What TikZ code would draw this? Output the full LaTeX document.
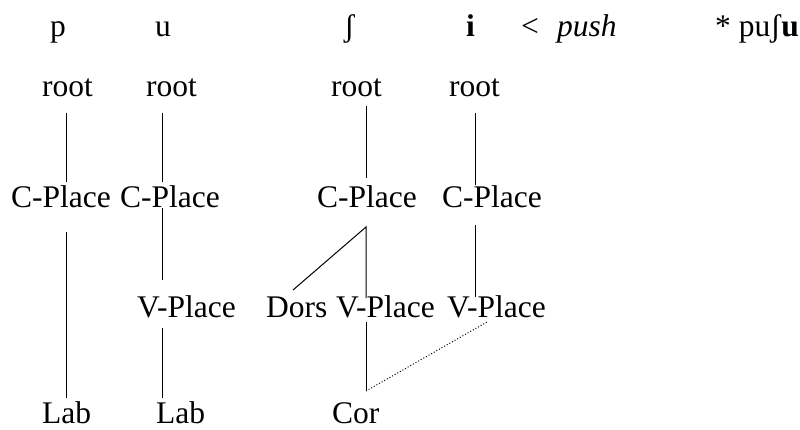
\documentclass[tikz,border=0pt]{standalone}
\usepackage{fontspec}
\setmainfont{Liberation Serif}
\begin{document}
\begin{tikzpicture}[x=1pt,y=-1pt,
  lbl/.style={inner sep=0pt, anchor=base west, font=\fontsize{31.5}{38}\selectfont},
  branch/.style={line width=1pt},
  dotline/.style={line width=1pt, dotted}]
\useasboundingbox (0,0) rectangle (800,430);
% top row
\node[lbl] (tp) at (50,37) {p};
\node[lbl] (tu) at (155,37) {u};
\node[lbl] (tsh) at (344,37) {ʃ};
\node[lbl] (ti) at (466,37) {\textbf{i}};
\node[lbl] (tlt) at (521,37) {<};
\node[lbl] (tpush) at (557,37) {\textit{push}};
\node[lbl] (tstar) at (715,37) {* puʃ\textbf{u}};
% roots
\node[lbl] (r1) at (42,97) {root};
\node[lbl] (r2) at (146,97) {root};
\node[lbl] (r3) at (331,97) {root};
\node[lbl] (r4) at (449,97) {root};
% C-Place
\node[lbl] (c1) at (11,208) {C-Place};
\node[lbl] (c2) at (120,208) {C-Place};
\node[lbl] (c3) at (317,208) {C-Place};
\node[lbl] (c4) at (442,208) {C-Place};
% V-Place row
\node[lbl] (v1) at (137,317) {V-Place};
\node[lbl] (d3) at (266,317) {Dors};
\node[lbl] (v3) at (336,317) {V-Place};
\node[lbl] (v4) at (447,317) {V-Place};
% bottom row
\node[lbl] (l1) at (42,423) {Lab};
\node[lbl] (l2) at (156,423) {Lab};
\node[lbl] (k3) at (332,423) {Cor};
% connector end points
\coordinate (r1b) at (66,113);  \coordinate (c1t) at (66,182);
\coordinate (c1b) at (66,232);  \coordinate (l1t) at (66,398);
\coordinate (r2b) at (162,113); \coordinate (c2t) at (162,182);
\coordinate (c2b) at (162,208); \coordinate (v1t) at (162,280);
\coordinate (v1b) at (162,328); \coordinate (l2t) at (162,398);
\coordinate (r3b) at (366,106); \coordinate (c3t) at (366,178);
\coordinate (c3b) at (366,227); \coordinate (d3t) at (293,290);
\coordinate (v3t) at (366,298);
\coordinate (v3b) at (366,322); \coordinate (k3t) at (366,391);
\coordinate (r4b) at (475,113); \coordinate (c4t) at (475,185);
\coordinate (c4b) at (475,225); \coordinate (v4t) at (475,297);
\coordinate (v4b) at (487,322);
% connectors
\draw[branch] (r1b) -- (c1t);
\draw[branch] (c1b) -- (l1t);
\draw[branch] (r2b) -- (c2t);
\draw[branch] (c2b) -- (v1t);
\draw[branch] (v1b) -- (l2t);
\draw[branch] (r3b) -- (c3t);
\draw[branch] (d3t) -- (c3b) -- (v3t);
\draw[branch] (v3b) -- (k3t);
\draw[branch] (r4b) -- (c4t);
\draw[branch] (c4b) -- (v4t);
\draw[dotline] (k3t) -- (v4b);
\end{tikzpicture}
\end{document}
